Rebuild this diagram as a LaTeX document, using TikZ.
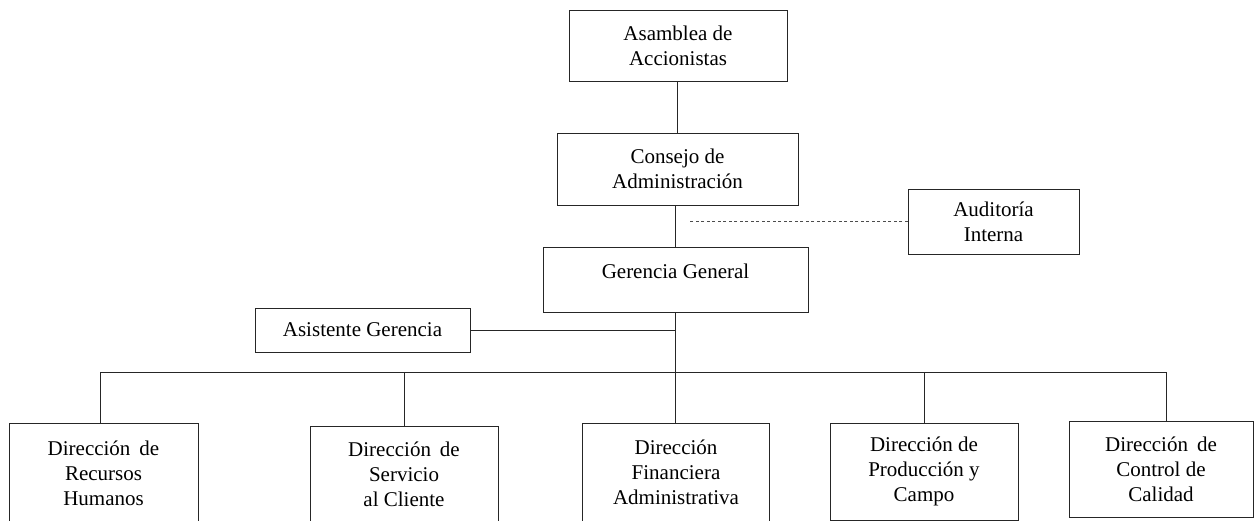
\documentclass[tikz,border=0pt]{standalone}
\usepackage{fontspec}
\setmainfont{Liberation Serif}
\begin{document}
\begin{tikzpicture}[x=1pt,y=-1pt,
  box/.style={draw=black!85, line width=0.9pt, inner sep=0pt, align=center,
    font=\fontsize{21}{25}\selectfont},
  conn/.style={draw=black!85, line width=0.8pt},
  dashconn/.style={draw=black!70, line width=0.6pt, dash pattern=on 3pt off 2.5pt}]
\useasboundingbox (0,0) rectangle (1255,520);
\fill[white] (0,0) rectangle (1255,520);
% top chain
\node[box, minimum width=218pt, minimum height=71pt] (ase) at (678,45.5) {Asamblea de\\Accionistas};
\node[box, minimum width=241pt, minimum height=72pt] (con) at (677.5,169) {Consejo de\\Administración};
\node[box, minimum width=171pt, minimum height=65pt] (aud) at (993.5,221.5) {Auditoría\\Interna};
\node[box, minimum width=265pt, minimum height=65pt, text depth=16pt] (ger) at (675.5,279.5) {Gerencia General};
\node[box, minimum width=215pt, minimum height=44pt] (asi) at (362.5,330) {Asistente Gerencia};
% bottom row
\node[box, minimum width=189pt, minimum height=100pt] (rec) at (103.5,473) {Dirección\hspace{9pt}de\\Recursos\\Humanos};
\node[box, minimum width=188pt, minimum height=96pt] (ser) at (404,474) {Dirección\hspace{9pt}de\\Servicio\\al Cliente};
\node[box, minimum width=187pt, minimum height=98pt] (fin) at (676,472) {Dirección\\Financiera\\Administrativa};
\node[box, minimum width=188pt, minimum height=97pt] (pro) at (924,471.5) {Dirección de\\Producción y\\Campo};
\node[box, minimum width=184pt, minimum height=96pt] (ctl) at (1161,469) {Dirección\hspace{9pt}de\\Control de\\Calidad};
% connectors
\draw[conn] (ase.south -| con.north) -- (con.north);
\draw[conn] (ger.north |- con.south) -- (ger.north);
\coordinate (dashend) at (690,221.5);
\draw[dashconn] (aud.west) -- (dashend);
\draw[conn] (ger.south) -- (ger.south |- fin.north);
\draw[conn] (asi.east) -- (asi.east -| ger.south);
\coordinate (busL) at (100,372);
\coordinate (busR) at (1166,372);
\draw[conn] (busL) -- (busR);
\draw[conn] (busL) -- (busL |- rec.north);
\draw[conn] (ser.north |- busL) -- (ser.north);
\draw[conn] (pro.north |- busL) -- (pro.north);
\draw[conn] (busR) -- (busR |- ctl.north);
\end{tikzpicture}
\end{document}
